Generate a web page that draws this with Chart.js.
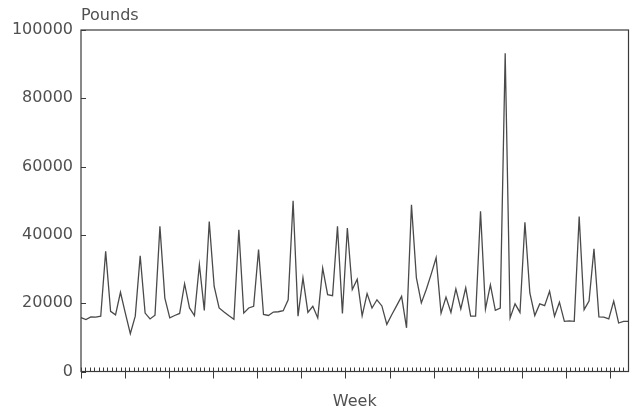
<!DOCTYPE html>
<html>
<head>
<meta charset="utf-8">
<script src="https://cdn.jsdelivr.net/npm/chart.js@4"></script>
<style>
body { margin: 0; background: #fff; }
</style>
</head>
<body>
<canvas id="salesChart" width="639" height="418"></canvas>
<script>
// weekly sales in pounds
const pounds = [
  15800, 15200, 16000, 15900, 16200, 35200, 17600, 16600, 23200, 17000,
  11100, 16200, 33900, 17100, 15400, 16500, 42500, 21500, 15700, 16400,
  17000, 25700, 18600, 16400, 31300, 17900, 43900, 24900, 18600, 17400,
  16300, 15300, 41500, 17100, 18600, 19100, 35700, 16700, 16400, 17400,
  17500, 17800, 21000, 50000, 16200, 27400, 17300, 19100, 15700, 30300,
  22500, 22200, 42500, 17000, 42000, 24000, 27000, 16300, 22800, 18600,
  21000, 19200, 13800, 16600, 19300, 22000, 12800, 48800, 27400, 20100,
  24000, 28500, 33300, 17100, 21800, 17300, 24200, 18300, 24500, 16200,
  16200, 46900, 18300, 25400, 17900, 18600, 93200, 15700, 19800, 17300,
  43700, 23000, 16400, 19800, 19300, 23500, 16200, 20300, 14700, 14800,
  14700, 45400, 18100, 20600, 35900, 16000, 15900, 15400, 20600, 14200,
  14700, 14700
]
const weeks = pounds.map((_, i) => i + 1)

const poundTicks = [0, 20000, 40000, 60000, 80000, 100000]
const weekAxisMax = 124.2
const weekMajorEvery = 10

const axisFrame = {
  id: 'axisFrame',
  afterDraw(chart) {
    const { ctx, chartArea: a, scales } = chart
    const y = scales.y
    const wk = scales.wk
    ctx.save()
    ctx.strokeStyle = '#3a3a3a'
    ctx.lineWidth = 1.2
    ctx.strokeRect(a.left, a.top, a.right - a.left, a.bottom - a.top)

    ctx.lineWidth = 1
    ctx.beginPath()
    poundTicks.forEach(v => {
      const py = Math.round(y.getPixelForValue(v)) + 0.5
      ctx.moveTo(a.left, py)
      ctx.lineTo(a.left + 5, py)
    })
    for (let w = 0; w <= Math.floor(weekAxisMax); w++) {
      const px = Math.round(wk.getPixelForValue(w)) + 0.5
      ctx.moveTo(px, a.bottom - 4)
      ctx.lineTo(px, w % weekMajorEvery === 0 ? a.bottom + 7 : a.bottom)
    }
    ctx.stroke()

    ctx.fillStyle = '#505050'
    ctx.font = '16px "DejaVu Sans"'
    ctx.textBaseline = 'middle'
    ctx.textAlign = 'left'
    ctx.fillText('Pounds', a.left, 16)
    ctx.textAlign = 'center'
    ctx.fillText('Week', (a.left + a.right) / 2, 402)
    ctx.restore()
  }
}

new Chart(document.getElementById('salesChart'), {
  type: 'line',
  data: {
    labels: weeks,
    datasets: [{
      label: 'Pounds',
      data: pounds,
      borderColor: '#4a4a4a',
      borderWidth: 1.3,
      pointRadius: 0,
      tension: 0,
      fill: false
    }]
  },
  options: {
    responsive: false,
    animation: false,
    layout: { padding: { top: 30, right: 10.5, bottom: 46.5, left: 0 } },
    plugins: {
      legend: { display: false },
      tooltip: { enabled: false }
    },
    scales: {
      x: { display: false },
      wk: {
        type: 'linear',
        axis: 'x',
        position: 'bottom',
        display: false,
        min: 0,
        max: weekAxisMax
      },
      y: {
        min: 0,
        max: 100000,
        afterBuildTicks: s => { s.ticks = poundTicks.map(v => ({ value: v })) },
        afterFit: s => { s.width = 81 },
        grid: { display: false, drawTicks: false },
        border: { display: false },
        ticks: {
          padding: 8,
          color: '#505050',
          font: { family: 'DejaVu Sans', size: 16 },
          callback: v => String(v)
        }
      }
    }
  },
  plugins: [axisFrame]
})
</script>
</body>
</html>
